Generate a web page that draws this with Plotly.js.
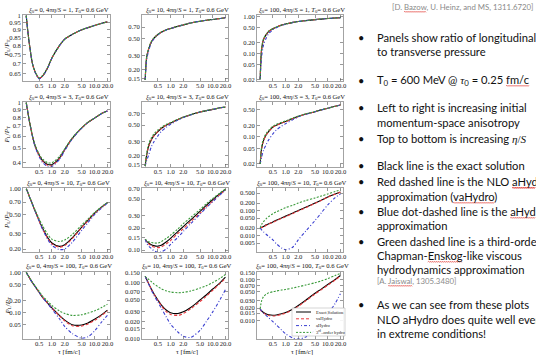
<!DOCTYPE html>
<html><head><meta charset="utf-8">
<script src="https://cdn.plot.ly/plotly-3.0.1.min.js"></script>
<style>body{margin:0;padding:0;background:#fff}#chart{width:536px;height:355px}</style>
</head><body><div id="chart"></div>
<script>
// ---------- DATA ----------
const tau = [0.25,0.27,0.3,0.35,0.4,0.5,0.6,0.8,1,1.5,2,3,5,7,10,15,20];
const xiValues = [0, 10, 100];
const etaValues = [1, 3, 10, 100];
const xTickVals = [0.5,1,2,5,10,20];
const xTickText = ['0.5','1.0','2.0','5.0','10.0','20.0'];
const seriesNames = ['Exact Solution','vaHydro','aHydro','3rd-order hydro'];

// row 1 : 4πη/S = 1
const r1c1_exact = [1.0,0.9,0.8,0.7,0.66,0.628,0.638,0.68,0.73,0.8,0.84,0.87,0.9,0.915,0.93,0.945,0.955];
const r1c1_va    = [1.0,0.9,0.8,0.7,0.66,0.627,0.637,0.68,0.73,0.8,0.84,0.87,0.9,0.915,0.93,0.945,0.955];
const r1c1_ah    = [1.0,0.9,0.8,0.7,0.658,0.625,0.635,0.679,0.729,0.8,0.84,0.87,0.9,0.915,0.93,0.945,0.955];
const r1c1_hy    = [1.0,0.9,0.8,0.7,0.661,0.63,0.64,0.682,0.731,0.8,0.84,0.87,0.9,0.915,0.93,0.945,0.955];
const r1c2_exact = [0.145,0.28,0.36,0.45,0.5,0.56,0.6,0.645,0.67,0.715,0.745,0.79,0.83,0.855,0.875,0.9,0.92];
const r1c2_va    = [0.145,0.28,0.36,0.45,0.5,0.56,0.6,0.645,0.67,0.715,0.745,0.79,0.83,0.855,0.875,0.9,0.92];
const r1c2_ah    = [0.145,0.26,0.34,0.44,0.49,0.555,0.597,0.643,0.669,0.714,0.745,0.79,0.83,0.855,0.875,0.9,0.92];
const r1c2_hy    = [0.145,0.29,0.37,0.455,0.505,0.562,0.602,0.646,0.671,0.716,0.746,0.79,0.83,0.855,0.875,0.9,0.92];
const r1c3_exact = [0.02,0.13,0.24,0.33,0.4,0.47,0.52,0.59,0.63,0.7,0.74,0.78,0.83,0.86,0.89,0.92,0.94];
const r1c3_va    = [0.02,0.13,0.24,0.33,0.4,0.47,0.52,0.59,0.63,0.7,0.74,0.78,0.83,0.86,0.89,0.92,0.94];
const r1c3_ah    = [0.02,0.08,0.17,0.27,0.35,0.44,0.5,0.58,0.625,0.7,0.74,0.78,0.83,0.86,0.89,0.92,0.94];
const r1c3_hy    = [0.02,0.14,0.25,0.34,0.41,0.475,0.523,0.592,0.632,0.7,0.74,0.78,0.83,0.86,0.89,0.92,0.94];
// row 2 : 4πη/S = 3
const r2c1_exact = [1.0,0.88,0.74,0.6,0.52,0.45,0.415,0.39,0.39,0.43,0.49,0.58,0.68,0.74,0.79,0.85,0.88];
const r2c1_va    = [1.0,0.88,0.74,0.6,0.52,0.447,0.41,0.384,0.384,0.425,0.486,0.578,0.68,0.74,0.79,0.85,0.88];
const r2c1_ah    = [1.0,0.88,0.74,0.6,0.515,0.44,0.403,0.377,0.378,0.42,0.482,0.575,0.678,0.74,0.79,0.85,0.88];
const r2c1_hy    = [1.0,0.88,0.745,0.605,0.528,0.458,0.424,0.4,0.4,0.44,0.495,0.585,0.683,0.742,0.79,0.85,0.88];
const r2c2_exact = [0.145,0.2,0.26,0.32,0.36,0.41,0.45,0.5,0.53,0.59,0.63,0.68,0.74,0.77,0.8,0.84,0.86];
const r2c2_va    = [0.145,0.2,0.26,0.32,0.36,0.41,0.45,0.5,0.53,0.59,0.63,0.68,0.74,0.77,0.8,0.84,0.86];
const r2c2_ah    = [0.145,0.17,0.2,0.26,0.3,0.36,0.41,0.47,0.51,0.58,0.625,0.678,0.74,0.77,0.8,0.84,0.86];
const r2c2_hy    = [0.145,0.21,0.28,0.34,0.38,0.43,0.465,0.51,0.54,0.595,0.635,0.683,0.742,0.772,0.8,0.84,0.86];
const r2c3_exact = [0.02,0.05,0.08,0.115,0.14,0.18,0.2,0.23,0.25,0.3,0.34,0.39,0.45,0.5,0.55,0.62,0.67];
const r2c3_va    = [0.02,0.05,0.08,0.113,0.138,0.178,0.198,0.228,0.248,0.298,0.338,0.388,0.45,0.5,0.55,0.62,0.67];
const r2c3_ah    = [0.02,0.03,0.045,0.065,0.085,0.12,0.15,0.19,0.22,0.28,0.33,0.385,0.448,0.5,0.55,0.62,0.67];
const r2c3_hy    = [0.02,0.055,0.09,0.125,0.15,0.19,0.21,0.24,0.26,0.31,0.345,0.395,0.455,0.503,0.553,0.62,0.67];
// row 3 : 4πη/S = 10
const r3c1_exact = [1.0,0.92,0.8,0.66,0.56,0.43,0.35,0.27,0.235,0.215,0.225,0.27,0.36,0.43,0.52,0.62,0.69];
const r3c1_va    = [1.0,0.92,0.8,0.66,0.558,0.427,0.346,0.265,0.23,0.21,0.22,0.265,0.355,0.425,0.515,0.615,0.685];
const r3c1_ah    = [1.0,0.92,0.8,0.66,0.555,0.424,0.342,0.258,0.22,0.198,0.2,0.24,0.33,0.405,0.5,0.605,0.68];
const r3c1_hy    = [1.0,0.92,0.8,0.665,0.57,0.45,0.375,0.295,0.26,0.245,0.255,0.295,0.38,0.445,0.53,0.625,0.69];
const r3c2_exact = [0.14,0.132,0.125,0.118,0.115,0.113,0.116,0.13,0.145,0.18,0.21,0.26,0.34,0.41,0.49,0.6,0.68];
const r3c2_va    = [0.14,0.13,0.122,0.114,0.11,0.108,0.11,0.122,0.135,0.17,0.195,0.245,0.32,0.39,0.47,0.58,0.67];
const r3c2_ah    = [0.14,0.125,0.114,0.105,0.098,0.093,0.094,0.104,0.12,0.15,0.18,0.23,0.31,0.38,0.46,0.575,0.66];
const r3c2_hy    = [0.14,0.136,0.13,0.127,0.125,0.125,0.13,0.145,0.16,0.195,0.23,0.28,0.36,0.43,0.51,0.61,0.69];
const r3c3_exact = [0.02,0.021,0.023,0.027,0.03,0.035,0.041,0.051,0.06,0.08,0.1,0.135,0.2,0.26,0.35,0.46,0.55];
const r3c3_va    = [0.02,0.021,0.022,0.026,0.029,0.034,0.039,0.049,0.057,0.077,0.096,0.13,0.195,0.255,0.345,0.455,0.545];
const r3c3_ah    = [0.02,0.017,0.014,0.011,0.0093,0.0067,0.0048,0.0032,0.0027,0.0035,0.0067,0.015,0.04,0.08,0.17,0.33,0.46];
const r3c3_hy    = [0.02,0.028,0.036,0.048,0.058,0.075,0.088,0.11,0.13,0.165,0.2,0.25,0.32,0.38,0.46,0.58,0.67];
// row 4 : 4πη/S = 100
const r4c1_exact = [1.0,0.87,0.72,0.55,0.45,0.32,0.24,0.17,0.13,0.085,0.065,0.05,0.049,0.055,0.068,0.09,0.115];
const r4c1_va    = [1.0,0.87,0.72,0.55,0.45,0.32,0.24,0.168,0.128,0.083,0.062,0.047,0.046,0.052,0.064,0.086,0.11];
const r4c1_ah    = [1.0,0.87,0.72,0.55,0.45,0.32,0.24,0.165,0.122,0.07,0.045,0.03,0.023,0.025,0.035,0.06,0.085];
const r4c1_hy    = [1.0,0.87,0.72,0.56,0.46,0.34,0.26,0.19,0.15,0.11,0.095,0.085,0.088,0.097,0.11,0.135,0.16];
const r4c2_exact = [0.13,0.115,0.097,0.077,0.064,0.049,0.04,0.032,0.029,0.028,0.03,0.036,0.049,0.06,0.077,0.1,0.125];
const r4c2_va    = [0.13,0.115,0.097,0.076,0.063,0.048,0.039,0.03,0.027,0.026,0.028,0.034,0.046,0.057,0.073,0.097,0.12];
const r4c2_ah    = [0.13,0.113,0.095,0.074,0.06,0.045,0.035,0.024,0.018,0.013,0.011,0.0105,0.014,0.02,0.03,0.05,0.075];
const r4c2_hy    = [0.13,0.122,0.115,0.104,0.095,0.085,0.078,0.071,0.068,0.066,0.067,0.071,0.08,0.088,0.1,0.12,0.14];
const r4c3_exact = [0.019,0.017,0.0155,0.0143,0.0137,0.0133,0.0135,0.0145,0.0155,0.019,0.023,0.031,0.046,0.058,0.075,0.1,0.125];
const r4c3_va    = [0.019,0.0165,0.015,0.0138,0.0132,0.0128,0.013,0.014,0.015,0.0183,0.022,0.03,0.044,0.056,0.072,0.097,0.121];
const r4c3_ah    = [0.019,0.017,0.015,0.013,0.0115,0.0093,0.0078,0.0058,0.0047,0.0037,0.0035,0.0039,0.0058,0.0085,0.014,0.026,0.045];
const r4c3_hy    = [0.019,0.03,0.038,0.044,0.047,0.05,0.052,0.055,0.057,0.062,0.066,0.073,0.083,0.092,0.105,0.125,0.14];

// y tick labels per panel
const yTicks = {
  r1c1: ['0.65','0.7','0.75','0.8','0.85','0.9','0.95','1'],
  r1c2: ['0.15','0.20','0.30','0.50','0.70'],
  r1c3: ['0.02','0.05','0.10','0.20','0.50','1.00'],
  r2c1: ['0.4','0.5','0.6','0.7','0.8','0.9','1'],
  r2c2: ['0.15','0.20','0.30','0.50','0.70'],
  r2c3: ['0.02','0.05','0.10','0.20','0.50'],
  r3c1: ['0.20','0.30','0.50','0.70','1.00'],
  r3c2: ['0.10','0.15','0.20','0.30','0.50','0.70'],
  r3c3: ['0.005','0.010','0.020','0.050','0.100','0.200','0.500'],
  r4c1: ['0.05','0.10','0.20','0.50','1.00'],
  r4c2: ['0.010','0.015','0.020','0.030','0.050','0.070','0.100','0.150'],
  r4c3: ['0.010','0.015','0.020','0.030','0.050','0.070','0.100','0.150']
};

const panelData = [
  [r1c1_exact,r1c1_va,r1c1_ah,r1c1_hy],[r1c2_exact,r1c2_va,r1c2_ah,r1c2_hy],[r1c3_exact,r1c3_va,r1c3_ah,r1c3_hy],
  [r2c1_exact,r2c1_va,r2c1_ah,r2c1_hy],[r2c2_exact,r2c2_va,r2c2_ah,r2c2_hy],[r2c3_exact,r2c3_va,r2c3_ah,r2c3_hy],
  [r3c1_exact,r3c1_va,r3c1_ah,r3c1_hy],[r3c2_exact,r3c2_va,r3c2_ah,r3c2_hy],[r3c3_exact,r3c3_va,r3c3_ah,r3c3_hy],
  [r4c1_exact,r4c1_va,r4c1_ah,r4c1_hy],[r4c2_exact,r4c2_va,r4c2_ah,r4c2_hy],[r4c3_exact,r4c3_va,r4c3_ah,r4c3_hy]
];

// ---------- LAYOUT / STYLE ----------
const W = 536, H = 355;
const colPx = [[23,110],[142,228],[257,343]];
const rowPx = [[15,81],[102,167],[188,252],[272,339]];
const titleY = [10, 97, 183, 266];
const yRanges = {
  r1c1:[0.615,1.005], r1c2:[0.141,1.0], r1c3:[0.018,1.11],
  r2c1:[0.375,1.01], r2c2:[0.141,1.0], r2c3:[0.0167,0.8],
  r3c1:[0.185,1.02], r3c2:[0.094,0.71], r3c3:[0.0022,0.8],
  r4c1:[0.022,1.02], r4c2:[0.0098,0.155], r4c3:[0.0035,0.152]
};
const lineStyles = [
  {color:'#000000', width:1.1, dash:'solid'},
  {color:'#e8383d', width:1.1, dash:'3px,2px'},
  {color:'#3a3fd0', width:1.1, dash:'3px,2px,1px,2px'},
  {color:'#3a9a3a', width:1.1, dash:'2px,1.5px'}
];
const serif = 'Liberation Serif, Times New Roman, serif';
const sans = 'Lato, Calibri, sans-serif';

const traces = [];
const layout = {
  width: W, height: H, margin:{l:0,r:0,t:0,b:0},
  paper_bgcolor:'#fff', plot_bgcolor:'#fff', showlegend:false,
  annotations: [], shapes: []
};

const px2x = v => v / W, px2y = v => 1 - v / H;

for (let r = 0; r < 4; r++) {
  for (let c = 0; c < 3; c++) {
    const k = r*3 + c, n = k + 1;
    const key = 'r'+(r+1)+'c'+(c+1);
    const xa = 'xaxis' + (n===1?'':n), ya = 'yaxis' + (n===1?'':n);
    const xr = 'x' + (n===1?'':n), yr = 'y' + (n===1?'':n);
    const ticks = yTicks[key];
    const axCommon = {
      type:'log', showgrid:false, zeroline:false, showline:true, linecolor:'#8c8c8c', linewidth:0.8,
      mirror:'ticks', ticks:'inside', ticklen:3, tickwidth:0.6, tickcolor:'#555',
      tickfont:{family:serif, size:6.6, color:'#222'}, fixedrange:true, tickangle:0, automargin:false
    };
    layout[xa] = Object.assign({}, axCommon, {
      domain:[px2x(colPx[c][0]), px2x(colPx[c][1])], anchor: yr,
      range:[Math.log10(0.21), Math.log10(23)], ticklabelstandoff:-2,
      tickmode:'array', tickvals:xTickVals, ticktext:xTickText
    });
    layout[ya] = Object.assign({}, axCommon, {
      domain:[px2y(rowPx[r][1]), px2y(rowPx[r][0])], anchor: xr,
      range:[Math.log10(yRanges[key][0]), Math.log10(yRanges[key][1])],
      tickmode:'array', tickvals: ticks.map(Number), ticktext: ticks
    });
    panelData[k].forEach((ys, s) => {
      traces.push({
        x: tau, y: ys, xaxis:xr, yaxis:yr, type:'scatter', mode:'lines',
        name: seriesNames[s], line: Object.assign({shape:'spline', smoothing:0.8}, lineStyles[s]),
        hoverinfo:'skip'
      });
    });
    layout.annotations.push({
      xref:'paper', yref:'paper', x: px2x((colPx[c][0]+colPx[c][1])/2 + 2), y: px2y(titleY[r]),
      xanchor:'center', yanchor:'middle', showarrow:false,
      text: '<i>ξ</i><sub>0</sub>= ' + xiValues[c] + ', 4π<i>η</i>/<i>S</i> = ' + etaValues[r] + ', <i>T</i><sub>0</sub>= 0.6 GeV',
      font:{family:serif, size:6.6, color:'#111'}
    });
  }
  layout.annotations.push({
    xref:'paper', yref:'paper', x: px2x(7), y: px2y((rowPx[r][0]+rowPx[r][1])/2),
    xanchor:'center', yanchor:'middle', showarrow:false, textangle:-90,
    text:'<i>P</i><sub>L</sub>/<i>P</i><sub>T</sub>', font:{family:serif, size:7, color:'#111'}
  });
}
for (let c = 0; c < 3; c++) {
  layout.annotations.push({
    xref:'paper', yref:'paper', x: px2x((colPx[c][0]+colPx[c][1])/2 + 2), y: px2y(351.5),
    xanchor:'center', yanchor:'middle', showarrow:false,
    text:'τ [fm/c]', font:{family:serif, size:7, color:'#111'}
  });
}

// legend (drawn in bottom-right panel)
const legX0 = 292, legY0 = 308, legX1 = 345, legY1 = 336;
layout.shapes.push({type:'rect', xref:'paper', yref:'paper', x0:px2x(legX0), x1:px2x(legX1), y0:px2y(legY1), y1:px2y(legY0),
  line:{color:'#bbbbbb', width:0.6}, fillcolor:'rgba(255,255,255,0.9)'});
seriesNames.forEach((nm, s) => {
  const yy = 312 + s*6.8;
  layout.shapes.push({type:'line', xref:'paper', yref:'paper', x0:px2x(296), x1:px2x(311), y0:px2y(yy), y1:px2y(yy),
    line:{color:lineStyles[s].color, width:1, dash:lineStyles[s].dash}});
  layout.annotations.push({xref:'paper', yref:'paper', x:px2x(314), y:px2y(yy), xanchor:'left', yanchor:'middle',
    showarrow:false, text: s===3 ? '3<sup>rd</sup>–order hydro' : nm, font:{family:serif, size:4.6, color:'#222'}});
});

// ---------- SLIDE TEXT ----------
const bulletLines = [
  {y:37.7, t:'Panels show ratio of longitudinal', b:true},
  {y:51.5, t:'to transverse pressure'},
  {y:80.5, t:'T<sub>0</sub> = 600 MeV @ <span style="font-family:Liberation Serif"><i>τ</i></span><sub>0</sub> = 0.25 fm/c', b:true},
  {y:107.5, t:'Left to right is increasing initial', b:true},
  {y:122.7, t:'momentum-space anisotropy'},
  {y:138.5, t:'Top to bottom is increasing <span style="font-family:Liberation Serif"><i>η</i>/<i>S</i></span>', b:true},
  {y:165.7, t:'Black line is the exact solution', b:true},
  {y:181.5, t:'Red dashed line is the NLO aHydro', b:true},
  {y:196.5, t:'approximation (vaHydro)'},
  {y:211, t:'Blue dot-dashed line is the aHydro', b:true},
  {y:225.5, t:'approximation'},
  {y:241.5, t:'Green dashed line is a third-order', b:true},
  {y:255, t:'Chapman-Enskog-like viscous'},
  {y:269, t:'hydrodynamics approximation'},
  {y:304.5, t:'As we can see from these plots', b:true},
  {y:319, t:'NLO aHydro does quite well even'},
  {y:333.5, t:'in extreme conditions!'}
];
bulletLines.forEach(l => {
  layout.annotations.push({xref:'paper', yref:'paper', x:px2x(375), y:px2y(l.y), xanchor:'left', yanchor:'middle',
    showarrow:false, text:l.t, font:{family:sans, size:11.2, color:'#111'}});
  if (l.b) layout.annotations.push({xref:'paper', yref:'paper', x:px2x(361), y:px2y(l.y), xanchor:'center', yanchor:'middle',
    showarrow:false, text:'•', font:{family:sans, size:11, color:'#111'}});
});
layout.annotations.push({xref:'paper', yref:'paper', x:px2x(390), y:px2y(7), xanchor:'left', yanchor:'middle',
  showarrow:false, text:'[D. Bazow, U. Heinz, and MS, 1311.6720]', font:{family:sans, size:7.8, color:'#8a8a8a'}});
layout.annotations.push({xref:'paper', yref:'paper', x:px2x(375), y:px2y(281), xanchor:'left', yanchor:'middle',
  showarrow:false, text:'[A. Jaiswal, 1305.3480]', font:{family:sans, size:7.8, color:'#8a8a8a'}});

// spell-check underlines (words flagged in the slide)
const flagged = [
  ['Bazow', 'Bazow'], ['MeV', 'fm/c'], ['Red dashed', 'aHydro'], ['(vaHydro)', 'vaHydro'],
  ['Blue dot-dashed', 'aHydro'], ['Chapman-Enskog', 'Enskog'], ['Jaiswal', 'Jaiswal'], ['NLO aHydro', 'aHydro']
];

Plotly.newPlot('chart', traces, layout, {staticPlot:true, displayModeBar:false}).then(gd => {
  const texts = Array.from(gd.querySelectorAll('.annotation-text'));
  const extra = [];
  flagged.forEach(([key, word]) => {
    const el = texts.find(t => t.textContent.includes(key));
    if (!el) return;
    const idx = el.textContent.lastIndexOf(word);
    try {
      const ctm = el.getScreenCTM();
      const svg = el.ownerSVGElement;
      const p0 = svg.createSVGPoint(), p1 = svg.createSVGPoint();
      const a = el.getStartPositionOfChar(idx), b = el.getEndPositionOfChar(idx + word.length - 1);
      p0.x = a.x; p0.y = a.y; p1.x = b.x; p1.y = b.y;
      const s0 = p0.matrixTransform(ctm), s1 = p1.matrixTransform(ctm);
      const y = s0.y + 2;
      let d = 'M' + px2x(s0.x) + ',' + px2y(y);
      let up = true;
      for (let x = s0.x + 1; x <= Math.min(s1.x, W); x += 1) {
        d += ' L' + px2x(x) + ',' + px2y(y + (up ? -0.8 : 0.4));
        up = !up;
      }
      extra.push({type:'path', xref:'paper', yref:'paper', path:d, line:{color:'#e0302a', width:0.6}});
    } catch (e) {}
  });
  if (extra.length) Plotly.relayout(gd, {shapes: layout.shapes.concat(extra)});
});
</script>
</body></html>
